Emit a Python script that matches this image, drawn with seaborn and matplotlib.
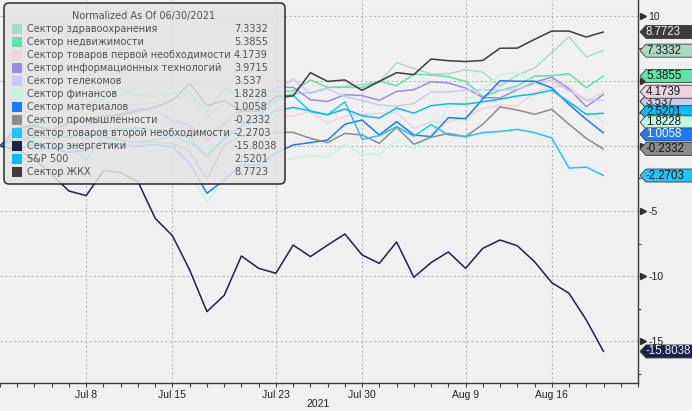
import numpy as np
import pandas as pd
import matplotlib
matplotlib.use("Agg")
import matplotlib.pyplot as plt
import seaborn as sns
from matplotlib.patches import FancyBboxPatch, Polygon, Rectangle
from matplotlib.ticker import FixedLocator, MultipleLocator, FixedFormatter
import matplotlib.transforms as mtrans

# ---------------- data ----------------
dates = ["Jun 30", "Jul 1", "Jul 2", "Jul 6", "Jul 7", "Jul 8", "Jul 9", "Jul 12", "Jul 13",
         "Jul 14", "Jul 15", "Jul 16", "Jul 19", "Jul 20", "Jul 21", "Jul 22", "Jul 23",
         "Jul 26", "Jul 27", "Jul 28", "Jul 29", "Jul 30", "Aug 2", "Aug 3", "Aug 4",
         "Aug 5", "Aug 6", "Aug 9", "Aug 10", "Aug 11", "Aug 12", "Aug 13", "Aug 16",
         "Aug 17", "Aug 18", "Aug 19"]
tick_labels = ["Jul 8", "Jul 15", "Jul 23", "Jul 30", "Aug 9", "Aug 16"]
y_ticks = [-15, -10, -5, 0, 5, 10]
y_tick_labels = ["-15", "-10", "-5", "", "", "10"]  # 0 and 5 sit under the value tags

healthcare = [0, 0.6, 1.0, 1.3, 1.6, 2.0, 2.5, 3.0, 3.2, 3.3, 3.7, 3.9, 2.2, 3.3, 3.5, 3.7, 3.9, 4.0,
              4.1, 4.49, 4.6, 4.74, 4.9, 6.41, 5.97, 5.54, 5.54, 5.87, 5.67, 4.59, 5.45, 6.0, 7.18,
              8.41, 6.85, 7.3332]
real_estate = [0, 1.0, 1.6, 1.8, 2.2, 3.2, 3.6, 4.36, 3.9, 3.8, 4.05, 4.13, 2.64, 4.4, 4.0, 3.9, 4.2,
               4.23, 5.08, 4.51, 4.51, 4.51, 5.0, 4.62, 5.54, 5.46, 5.33, 4.96, 3.8, 4.27, 4.62,
               5.38, 5.41, 5.56, 4.49, 5.3855]
staples = [0, 0.3, 0.8, 0.6, 0.4, 0.8, 1.2, 1.5, 1.8, 1.7, 1.6, 1.4, 0.5, 1.3, 1.8, 2.0, 2.2, 2.31,
           2.64, 1.77, 2.28, 2.44, 2.5, 2.6, 1.36, 1.88, 1.85, 2.2, 2.9, 3.1, 3.1, 4.1, 4.56, 4.6,
           3.46, 4.1739]
info_tech = [0, 0.8, 1.5, 1.2, 1.0, 1.6, 2.0, 2.5, 2.9, 2.8, 1.9, 1.6, 0.33, 1.74, 2.64, 3.6, 4.5,
             4.51, 3.56, 3.43, 3.95, 3.88, 3.51, 4.2, 4.33, 4.95, 4.85, 4.46, 3.72, 3.7, 4.33, 4.9,
             5.3, 4.4, 3.03, 3.9715]
telecom = [0, 0.5, 1.2, 1.6, 1.3, 1.5, 1.8, 2.2, 2.6, 2.8, 2.1, 1.7, 0.6, 2.0, 2.8, 3.5, 4.3, 5.13,
           4.05, 4.4, 3.8, 3.5, 3.15, 3.06, 3.27, 4.16, 4.16, 4.3, 4.31, 4.31, 4.36, 4.8, 5.05,
           4.23, 3.54, 3.537]
financials = [0, 0.3, 0.5, -0.5, -1.0, -2.2, -1.2, -0.8, -0.6, -0.69, -0.8, -2.23, -4.28, -2.62,
              -1.33, -1.33, -1.2, -0.95, -0.69, -0.87, 0.12, -0.63, -0.63, 0.46, -0.22, 0.85, 3.0,
              3.43, 4.3, 5.5, 5.67, 4.87, 4.23, 3.33, 2.82, 1.8228]
materials = [0, -0.3, 0.2, -0.2, -0.5, -0.3, 0.3, 0.1, 0.0, 0.1, -0.05, -1.33, -3.64, -2.62, -1.46,
             -1.46, -0.55, 0.08, 0.26, 0.46, 1.67, 2.0, 0.85, 1.87, 0.85, 0.72, 2.18, 2.1, 3.62,
             5.02, 4.98, 4.98, 4.47, 3.2, 2.05, 1.0058]
industrials = [0, 0.8, 1.2, 0.9, 0.6, 1.0, 0.7, 0.4, 0.26, 0.3, 0.2, -0.44, -2.56, 0.08, 0.77, 0.9,
               1.05, 1.05, 0.59, 0.26, 0.97, 0.85, 0.2, 1.44, 0.13, 0.67, 0.97, 0.72, 1.67, 3.0,
               2.77, 2.44, 2.82, 1.67, 0.59, -0.2332]
discretionary = [0, 0.5, 0.3, -0.3, 0.2, -1.1, 0.8, 0.5, 0.3, 0.5, 0.7, 0.3, -0.8, 0.5, 1.6, 2.3,
                 3.5, 3.9, 2.65, 2.4, 3.4, 0.51, 0.8, 1.5, 0.75, 1.65, 0.85, 0.72, 1.03, 1.12, 1.28,
                 1.03, 0.62, -1.7, -1.62, -2.2703]
energy = [0, -0.3, -1.0, -2.2, -3.46, -3.82, -1.90, -2.05, -2.74, -5.56, -6.90, -9.54, -12.74,
          -11.49, -8.46, -9.41, -9.79, -7.62, -8.51, -7.62, -6.77, -8.38, -9.03, -7.38, -10.10,
          -8.97, -8.15, -9.41, -7.87, -7.23, -7.67, -8.90, -10.51, -11.33, -13.38, -15.8038]
sp500 = [0, 0.5, 0.7, 0.6, 0.8, 0.6, 1.1, 1.3, 1.4, 1.2, 1.0, 0.6, -0.8, 0.7, 1.5, 2.0, 2.7, 2.97,
         2.7, 2.4, 2.85, 2.33, 2.15, 2.92, 2.53, 3.1, 3.25, 3.22, 3.4, 3.6, 3.85, 4.0, 4.3, 3.38,
         2.44, 2.5201]
utilities = [0, 1.4, 1.6, 1.2, 1.8, 2.0, 2.3, 2.4, 2.7, 3.0, 3.5, 4.82, 3.1, 3.5, 2.7, 2.65, 3.82,
             3.85, 5.64, 4.97, 5.08, 4.28, 4.97, 5.64, 5.49, 6.69, 6.56, 6.5, 6.58, 7.52, 7.53, 8.2,
             8.84, 8.84, 8.38, 8.7723]

names = ["Сектор здравоохранения", "Сектор недвижимости", "Сектор товаров первой необходимости",
         "Сектор информационных технологий", "Сектор телекомов", "Сектор финансов",
         "Сектор материалов", "Сектор промышленности", "Сектор товаров второй необходимости",
         "Сектор энергетики", "S&P 500", "Сектор ЖКХ"]
value_labels = ["7.3332", "5.3855", "4.1739", "3.9715", "3.537", "1.8228", "1.0058", "-0.2332",
                "-2.2703", "-15.8038", "2.5201", "8.7723"]
series = [healthcare, real_estate, staples, info_tech, telecom, financials, materials,
          industrials, discretionary, energy, sp500, utilities]
colors = ["#acd8c6", "#5ee3a8", "#ecd3df", "#9b8ce0", "#c8c8f2", "#c6f5df", "#1a7cff",
          "#8c8c8c", "#1ec6ff", "#1f1f4d", "#00bff0", "#3c3c3c"]
tag_text_colors = ["#1a1a1a", "#1a1a1a", "#1a1a1a", "#1a1a1a", "#1a1a1a", "#1a1a1a", "#ffffff",
                   "#101010", "#101010", "#f0f0f0", "#101010", "#f0f0f0"]

# ---------------- figure ----------------
BG = "#f0f0f0"
W, H = 692, 411
sns.set_theme(style="white")
plt.rcParams["font.family"] = ["Liberation Sans", "DejaVu Sans"]
plt.rcParams["axes.unicode_minus"] = False

fig = plt.figure(figsize=(W / 100, H / 100), dpi=100, facecolor=BG)
ax = fig.add_axes([0, 28 / H, 638 / W, 383 / H])
ax.set_facecolor(BG)

x_idx = list(range(len(dates)))
frames = []
for nm, vals in zip(names, series):
    frames.append(pd.DataFrame({"idx": x_idx, "date": dates, "value": vals, "series": nm}))
df = pd.concat(frames, ignore_index=True)
palette = dict(zip(names, colors))

sns.lineplot(data=df, x="idx", y="value", hue="series", hue_order=names, palette=palette,
             legend=False, ax=ax, linewidth=1.1, sort=False)

ax.set_xlim(0, 37)
ax.set_ylim(-18.23, 11.23)
ax.set_xlabel("")
ax.set_ylabel("")

# x axis: trading-day ticks
tick_pos = [dates.index(t) for t in tick_labels]
ax.xaxis.set_major_locator(FixedLocator(tick_pos))
ax.set_xticklabels(tick_labels)
ax.xaxis.set_minor_locator(FixedLocator(list(range(0, 38))))
ax.tick_params(axis="x", which="both", direction="out", length=3.2, width=0.8, color="#404040",
               labelsize=7.5, labelcolor="#222222", pad=2, bottom=True)

# y axis on the right
ax.yaxis.tick_right()
ax.yaxis.set_major_locator(FixedLocator(y_ticks))
ax.yaxis.set_major_formatter(FixedFormatter(y_tick_labels))
ax.yaxis.set_minor_locator(MultipleLocator(2.5))
ax.tick_params(axis="y", which="major", length=0, pad=7.5, labelsize=7.5, labelcolor="#222222")
ax.tick_params(axis="y", which="minor", direction="out", length=2.5, width=0.8, color="#404040",
               right=True, left=False)

for s in ["left", "top"]:
    ax.spines[s].set_visible(False)
for s in ["bottom", "right"]:
    ax.spines[s].set_visible(True)
    ax.spines[s].set_color("#3a3a3a")
    ax.spines[s].set_linewidth(1.0)

ax.grid(True, which="major", linestyle=(0, (2, 2)), color="#b8b8b8", linewidth=0.8)
ax.set_axisbelow(True)

# triangle markers for y major ticks
tri_tr = ax.get_yaxis_transform() + mtrans.ScaledTranslation(4.5 / 100, 0, fig.dpi_scale_trans)
ax.plot([1] * len(y_ticks), y_ticks, linestyle="none", marker=">", markersize=5,
        color="#303030", transform=tri_tr, clip_on=False)

fig.text(318 / W, 1 - 404 / H, "2021", ha="center", va="center", fontsize=7.5, color="#222222")

# ---------------- legend box ----------------
ident = mtrans.IdentityTransform()
box = FancyBboxPatch((4, H - 184), 281, 181, boxstyle="round,pad=0,rounding_size=5",
                     facecolor="#e4e4e4", edgecolor="#1a1a1a", linewidth=1.2, alpha=0.85,
                     transform=ident, zorder=5)
fig.add_artist(box)
leg_font = ["DejaVu Sans"]
fig.text(144 / W, 1 - 16 / H, "Normalized As Of 06/30/2021", ha="center", va="center",
         fontsize=7, color="#505050", family=leg_font, zorder=6)
for i, (nm, col, vl) in enumerate(zip(names, colors, value_labels)):
    yc = 29.3 + 13.0 * i
    sq = Rectangle((12, H - yc - 5), 10, 10, facecolor=col, edgecolor="none", transform=ident,
                   zorder=6)
    fig.add_artist(sq)
    fig.text(27 / W, 1 - yc / H, nm, ha="left", va="center", fontsize=7, color="#505050",
             family=leg_font, zorder=6)
    fig.text(234 / W, 1 - yc / H, vl, ha="left", va="center", fontsize=7, color="#505050",
             family=leg_font, zorder=6)

# ---------------- value tags on the right ----------------
fig.canvas.draw()
# the IT tag is fully covered by the telecom tag, as in the source chart
anchor = {3: 4}
hidden_text = {3}
nudges = {4: -1.5, 6: -1.5, 10: 1.0}  # pixel nudges (display coords, up positive)
draw_order = [11, 0, 1, 3, 4, 2, 10, 5, 6, 7, 8, 9]
for j, k in enumerate(draw_order):
    src = anchor.get(k, k)
    v = series[src][-1]
    _, yd = ax.transData.transform((0, v))
    yd += nudges.get(src, 0.0)
    hh = 6.5
    pts = [(640, yd), (646, yd + hh), (700, yd + hh), (700, yd - hh), (646, yd - hh)]
    poly = Polygon(pts, closed=True, facecolor=colors[k], edgecolor="#3a3a3a", linewidth=0.6,
                   transform=ident, zorder=10 + 2 * j)
    fig.add_artist(poly)
    if k not in hidden_text:
        fig.text(646 / W, yd / H, value_labels[k], ha="left", va="center", fontsize=8.3,
                 color=tag_text_colors[k], zorder=11 + 2 * j)

fig.savefig("out.png", dpi=100, facecolor=BG)
